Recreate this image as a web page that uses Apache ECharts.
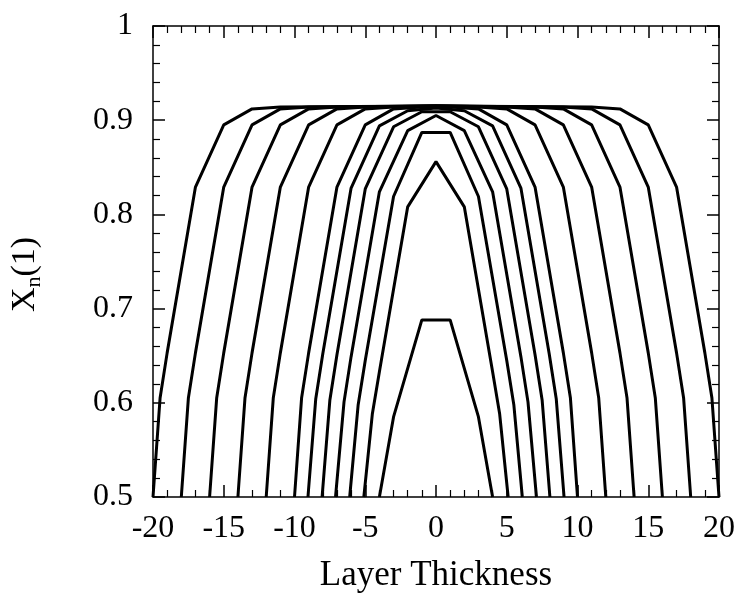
<!DOCTYPE html>
<html>
<head>
<meta charset="utf-8">
<script src="https://cdn.jsdelivr.net/npm/echarts@6/dist/echarts.min.js"></script>
<style>
  html, body { margin: 0; padding: 0; background: #fff; }
  #chart { width: 738px; height: 599px; }
</style>
</head>
<body>
<div id="chart"></div>
<script>
// each curve: [layer position, X_n(1)], one per layer half-width
const w20 = [[-20,0.5],[-19.5,0.605],[-19,0.653],[-17,0.829],[-15,0.895],[-13,0.912],[-11,0.914],[0,0.915],[11,0.914],[13,0.912],[15,0.895],[17,0.829],[19,0.653],[19.5,0.605],[20,0.5]]
const w18 = [[-18,0.5],[-17.5,0.605],[-17,0.653],[-15,0.829],[-13,0.895],[-11,0.912],[-9,0.914],[0,0.915],[9,0.914],[11,0.912],[13,0.895],[15,0.829],[17,0.653],[17.5,0.605],[18,0.5]]
const w16 = [[-16,0.5],[-15.5,0.605],[-15,0.653],[-13,0.829],[-11,0.895],[-9,0.912],[-7,0.914],[0,0.915],[7,0.914],[9,0.912],[11,0.895],[13,0.829],[15,0.653],[15.5,0.605],[16,0.5]]
const w14 = [[-14,0.5],[-13.5,0.605],[-13,0.653],[-11,0.829],[-9,0.895],[-7,0.912],[-5,0.914],[0,0.915],[5,0.914],[7,0.912],[9,0.895],[11,0.829],[13,0.653],[13.5,0.605],[14,0.5]]
const w12 = [[-12,0.5],[-11.5,0.605],[-11,0.653],[-9,0.829],[-7,0.895],[-5,0.912],[-3,0.914],[0,0.915],[3,0.914],[5,0.912],[7,0.895],[9,0.829],[11,0.653],[11.5,0.605],[12,0.5]]
const w10 = [[-10,0.5],[-9.5,0.605],[-9,0.653],[-7,0.829],[-5,0.895],[-3,0.912],[-1,0.914],[1,0.914],[3,0.912],[5,0.895],[7,0.829],[9,0.653],[9.5,0.605],[10,0.5]]
const w9 = [[-9.05,0.5],[-8.5,0.604],[-8,0.652],[-6,0.828],[-4,0.894],[-2,0.91],[0,0.913],[2,0.91],[4,0.894],[6,0.828],[8,0.652],[8.5,0.604],[9.05,0.5]]
const w8 = [[-8.05,0.5],[-7.5,0.603],[-7,0.651],[-5,0.827],[-3,0.893],[-1,0.909],[1,0.909],[3,0.893],[5,0.827],[7,0.651],[7.5,0.603],[8.05,0.5]]
const w7 = [[-7.1,0.5],[-6.5,0.601],[-6,0.649],[-4,0.824],[-2,0.889],[0,0.905],[2,0.889],[4,0.824],[6,0.649],[6.5,0.601],[7.1,0.5]]
const w6 = [[-6.1,0.5],[-5.5,0.598],[-5,0.645],[-3,0.819],[-1,0.887],[1,0.887],[3,0.819],[5,0.645],[5.5,0.598],[6.1,0.5]]
const w5 = [[-5.1,0.5],[-4.5,0.588],[-4,0.633],[-2,0.808],[0,0.856],[2,0.808],[4,0.633],[4.5,0.588],[5.1,0.5]]
const w4 = [[-4,0.5],[-3,0.585],[-1,0.688],[1,0.688],[3,0.585],[4,0.5]]

const curves = [w20, w18, w16, w14, w12, w10, w9, w8, w7, w6, w5, w4]
const xRange = [-20, 20]
const yRange = [0.5, 1]

const font = 'Liberation Serif'

const chart = echarts.init(document.getElementById('chart'))

const baseAxis = {
  axisLine: { show: true, onZero: false, lineStyle: { color: '#000', width: 1.5 } },
  axisTick: { show: true, inside: true, length: 12, lineStyle: { color: '#000', width: 1.5 } },
  minorTick: { show: true, splitNumber: 5, length: 7, lineStyle: { color: '#000', width: 1.2 } },
  splitLine: { show: false },
  minorSplitLine: { show: false }
}

chart.setOption({
  animation: false,
  grid: { left: 152, right: 19, top: 26, bottom: 102 },
  xAxis: [
    Object.assign({}, baseAxis, {
      type: 'value',
      min: xRange[0],
      max: xRange[1],
      interval: 5,
      name: 'Layer Thickness',
      nameLocation: 'middle',
      nameGap: 61,
      nameTextStyle: { fontFamily: font, fontSize: 35, color: '#000' },
      axisLabel: { fontFamily: font, fontSize: 32, color: '#000', margin: 16 }
    }),
    Object.assign({}, baseAxis, {
      type: 'value',
      position: 'top',
      min: xRange[0],
      max: xRange[1],
      interval: 5,
      axisLabel: { show: false }
    })
  ],
  yAxis: [
    Object.assign({}, baseAxis, {
      type: 'value',
      min: yRange[0],
      max: yRange[1],
      interval: 0.1,
      name: '{a|X}{b|n}{a|(1)}',
      nameLocation: 'middle',
      nameGap: 108,
      nameTextStyle: {
        color: '#000',
        padding: [0, 26, 0, 0],
        rich: {
          a: { fontFamily: font, fontSize: 34, color: '#000' },
          b: { fontFamily: font, fontSize: 22, color: '#000', padding: [18, 0, 0, 0] }
        }
      },
      axisLabel: { fontFamily: font, fontSize: 32, color: '#000', margin: 20 }
    }),
    Object.assign({}, baseAxis, {
      type: 'value',
      position: 'right',
      min: yRange[0],
      max: yRange[1],
      interval: 0.1,
      axisLabel: { show: false }
    })
  ],
  series: curves.map(function (d) {
    return {
      type: 'line',
      data: d,
      showSymbol: false,
      clip: true,
      lineStyle: { color: '#000', width: 3 },
      itemStyle: { color: '#000' }
    }
  })
})
</script>
</body>
</html>
